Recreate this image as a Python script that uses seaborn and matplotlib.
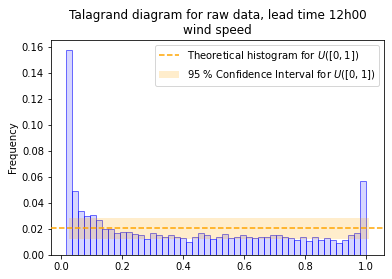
import numpy as np
import pandas as pd
import seaborn as sns
import matplotlib.pyplot as plt

# rank histogram frequencies (50 bins)
freqs = [0.1575, 0.0493, 0.0340, 0.0297, 0.0310, 0.0269, 0.0203, 0.0201, 0.0168, 0.0180,
         0.0175, 0.0160, 0.0152, 0.0120, 0.0173, 0.0155, 0.0142, 0.0157, 0.0142, 0.0127,
         0.0097, 0.0135, 0.0173, 0.0150, 0.0120, 0.0142, 0.0165, 0.0127, 0.0142, 0.0157,
         0.0142, 0.0127, 0.0142, 0.0142, 0.0150, 0.0157, 0.0135, 0.0127, 0.0112, 0.0135,
         0.0104, 0.0135, 0.0112, 0.0127, 0.0112, 0.0089, 0.0112, 0.0150, 0.0173, 0.0569]
x_start = 0.0165
x_end = 1.0
theo = 0.0207
ci_low, ci_high = 0.0122, 0.0282
ci_x = [0.0263, 1.0098]

n_bins = len(freqs)
edges = np.linspace(x_start, x_end, n_bins + 1)
df = pd.DataFrame({'rank': (edges[:-1] + edges[1:]) / 2, 'freq': freqs})

fig = plt.figure(figsize=(392 / 72, 279 / 72), dpi=72)
ax = fig.add_axes([0.130, 0.086, 0.850, 0.771])

sns.histplot(data=df, x='rank', weights='freq', bins=n_bins,
             binrange=(x_start, x_end), ax=ax, color='blue')
for p in ax.patches:
    p.set_facecolor((0, 0, 1, 0.16))
    p.set_edgecolor((0, 0, 1, 0.55))
    p.set_linewidth(1.0)

ax.axhline(theo, color='orange', linestyle='--', linewidth=1.5, zorder=3,
           label='Theoretical histogram for $U([0,1])$')
ax.fill_between(ci_x, ci_low, ci_high, color='orange', alpha=0.2, linewidth=0,
                label='95 % Confidence Interval for $U([0,1])$')

ax.set_xlabel('')
ax.set_ylabel('Frequency')
ax.set_title('Talagrand diagram for raw data, lead time 12h00\nwind speed')
ax.legend(loc='upper right')

fig.savefig('out.png', dpi=72)
